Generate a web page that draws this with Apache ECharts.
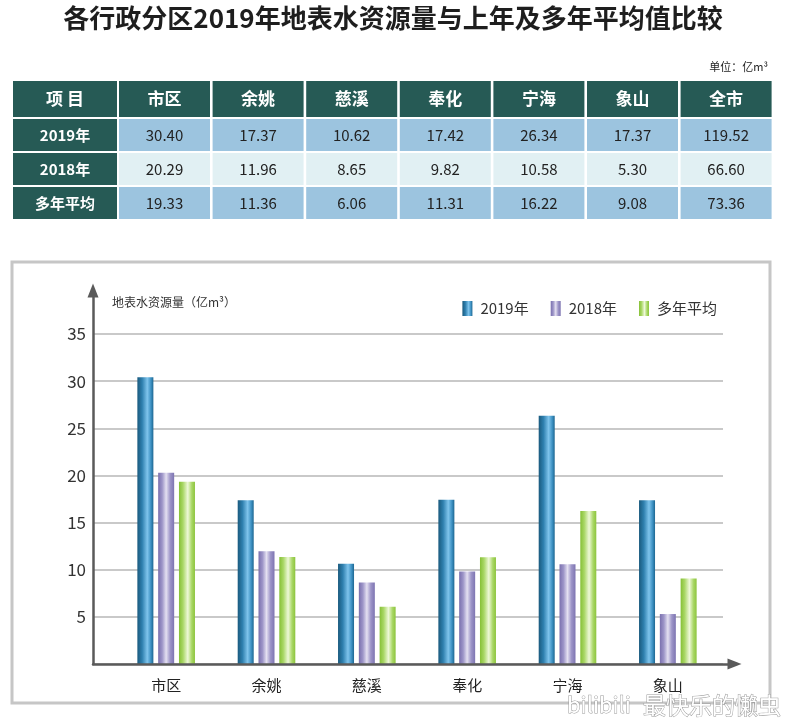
<!DOCTYPE html>
<html><head><meta charset="utf-8">
<script src="https://cdn.jsdelivr.net/npm/echarts@6/dist/echarts.min.js"></script>
<style>html,body{margin:0;padding:0;background:#fff}#c{width:786px;height:718px}</style>
</head><body><div id="c"></div>
<script>
// ---- data ----
const titleText = '各行政分区2019年地表水资源量与上年及多年平均值比较';
const unitText = '单位：亿m³';
const yAxisName = '地表水资源量（亿m³）';
const tableHeader = ['项 目', '市区', '余姚', '慈溪', '奉化', '宁海', '象山', '全市'];
const rowLabels = ['2019年', '2018年', '多年平均'];
const regions = ['市区', '余姚', '慈溪', '奉化', '宁海', '象山'];
const seriesNames = ['2019年', '2018年', '多年平均'];
const values2019 = [30.40, 17.37, 10.62, 17.42, 26.34, 17.37];
const values2018 = [20.29, 11.96, 8.65, 9.82, 10.58, 5.30];
const valuesAvg = [19.33, 11.36, 6.06, 11.31, 16.22, 9.08];
const totals = [119.52, 66.60, 73.36];   // 全市: 2019年, 2018年, 多年平均
const yMin = 0, yMax = 35, yInterval = 5;

// ---- styles / layout ----
const FONT = '"Noto Sans CJK SC", "Noto Sans", sans-serif';
const dark = '#265a55';
const rowFills = ['#9cc4df', '#e1f0f3', '#9cc4df'];
const grad = (stops) => new echarts.graphic.LinearGradient(0, 0, 1, 0, stops.map((c, i) => ({offset: c[0], color: c[1]})));
const barColors = [
  grad([[0, '#1a5a7e'], [0.3, '#2f80af'], [0.62, '#7fc4ec'], [0.85, '#3c90c2'], [1, '#1d6690']]),
  grad([[0, '#7a70ae'], [0.25, '#9d95c8'], [0.5, '#e4e0f1'], [0.75, '#9d95c8'], [1, '#7d74b1']]),
  grad([[0, '#86c036'], [0.25, '#a9d766'], [0.55, '#eef8d8'], [0.8, '#a9d766'], [1, '#8cc43c']])
];

// ---- table via graphic ----
const tableValues = [values2019.concat([totals[0]]), values2018.concat([totals[1]]), valuesAvg.concat([totals[2]])];
const colX = (i) => i === 0 ? 13 : 119 + (i - 1) * 93.6;
const colW = (i) => i === 0 ? 104 : 91;
const rowY = (r) => r === 0 ? 81 : 119 + (r - 1) * 34;
const rowH = (r) => r === 0 ? 36 : 32;
const graphics = [];
graphics.push({type: 'text', left: 'center', top: 5, style: {text: titleText, font: 'bold 26px ' + FONT, fill: '#1e1e1e'}});
graphics.push({type: 'text', x: 768, y: 67, style: {text: unitText, font: '11px ' + FONT, fill: '#222', align: 'right', verticalAlign: 'middle'}});
for (let r = 0; r < 4; r++) {
  for (let c = 0; c < tableHeader.length; c++) {
    const isDark = r === 0 || c === 0;
    const fill = isDark ? dark : rowFills[r - 1];
    graphics.push({type: 'rect', shape: {x: colX(c), y: rowY(r), width: colW(c), height: rowH(r)}, style: {fill: fill}});
    let txt, font, col;
    if (r === 0) { txt = tableHeader[c]; font = 'bold 17px ' + FONT; col = '#fff'; }
    else if (c === 0) { txt = rowLabels[r - 1]; font = 'bold 15px ' + FONT; col = '#fff'; }
    else { txt = tableValues[r - 1][c - 1].toFixed(2); font = '15px ' + FONT; col = '#222'; }
    graphics.push({type: 'text', x: colX(c) + colW(c) / 2, y: rowY(r) + rowH(r) / 2, style: {text: txt, font: font, fill: col, align: 'center', verticalAlign: 'middle'}});
  }
}
// chart box
graphics.push({type: 'rect', z: -10, shape: {x: 12, y: 262, width: 758, height: 441}, style: {fill: 'none', stroke: '#c6c6c6', lineWidth: 3}});
graphics.push({type: 'text', x: 112, y: 302, style: {text: yAxisName, font: '12px ' + FONT, fill: '#333', verticalAlign: 'middle'}});
// watermark
graphics.push({type: 'text', x: 567, y: 705, z: 100, style: {text: 'bilibili', font: '22px ' + FONT, fill: '#fff', stroke: '#9a9a9a', lineWidth: 1, verticalAlign: 'middle'}});
graphics.push({type: 'text', x: 643, y: 705, z: 100, style: {text: '最快乐的懒虫', font: '23px ' + FONT, fill: '#fff', stroke: '#9a9a9a', lineWidth: 1, verticalAlign: 'middle'}});

const chart = echarts.init(document.getElementById('c'), null, {renderer: 'canvas'});
const valueAxisBase = {type: 'value', min: yMin, max: yMax, interval: yInterval};
chart.setOption({
  backgroundColor: '#fff',
  textStyle: {fontFamily: FONT},
  animation: false,
  grid: [
    {left: 93, right: 63, top: 334, bottom: 54},
    {left: 116, right: 68, top: 334, bottom: 54},
    {left: 93, right: 51.5, top: 290.5, bottom: 54}
  ],
  legend: {
    right: 64, top: 296, itemWidth: 10, itemHeight: 15, itemGap: 22, icon: 'rect',
    data: seriesNames,
    textStyle: {fontSize: 15, color: '#333', fontFamily: FONT, padding: [0, 0, 0, 3]}
  },
  xAxis: [
    {gridIndex: 0, type: 'category', data: regions, show: false},
    {gridIndex: 1, type: 'category', data: regions, axisLine: {show: false}, axisTick: {show: false},
     axisLabel: {fontSize: 15, color: '#222', margin: 14, fontFamily: FONT}},
    {gridIndex: 2, type: 'value', min: 0, max: 1, z: 5,
     axisLine: {show: true, symbol: ['none', 'triangle'], symbolSize: [11, 14], lineStyle: {color: '#5a5a5a', width: 2.5}},
     axisTick: {show: false}, axisLabel: {show: false}, splitLine: {show: false}}
  ],
  yAxis: [
    Object.assign({gridIndex: 0}, valueAxisBase, {
      axisLine: {show: false}, axisTick: {show: false},
      axisLabel: {fontSize: 17, color: '#333', margin: 7, fontFamily: FONT, formatter: (v) => v === 0 ? '' : String(v)},
      splitLine: {show: true, lineStyle: {color: '#c9c9c9', width: 2}}
    }),
    Object.assign({gridIndex: 1}, valueAxisBase, {show: false}),
    {gridIndex: 2, type: 'value', min: 0, max: 1, z: 5,
     axisLine: {show: true, symbol: ['none', 'triangle'], symbolSize: [11, 14], lineStyle: {color: '#5a5a5a', width: 2.5}},
     axisTick: {show: false}, axisLabel: {show: false}, splitLine: {show: false}}
  ],
  series: [values2019, values2018, valuesAvg].map((vals, i) => ({
    name: seriesNames[i], type: 'bar', xAxisIndex: 1, yAxisIndex: 1,
    data: vals, barWidth: 16, barGap: '30%', z: 3,
    itemStyle: {color: barColors[i]}
  })),
  graphic: graphics
});
</script></body></html>
